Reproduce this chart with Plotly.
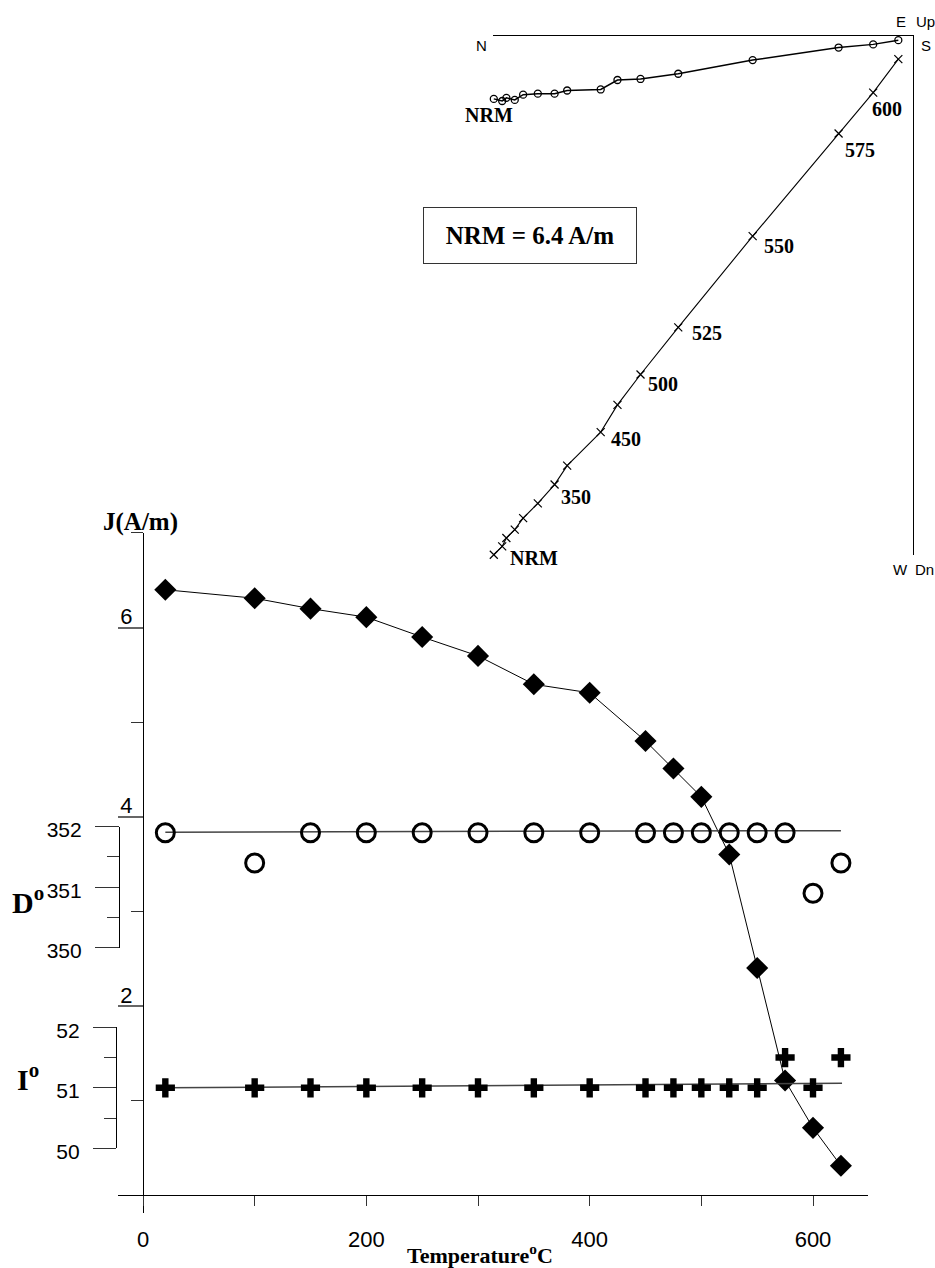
import plotly.graph_objects as go

W, H = 935, 1268

# ---------------- data ----------------
temps = [20, 100, 150, 200, 250, 300, 350, 400, 450, 475, 500, 525, 550, 575, 600, 625]
J_vals = [6.40, 6.31, 6.20, 6.11, 5.90, 5.70, 5.40, 5.31, 4.80, 4.51, 4.21, 3.60, 2.40, 1.21, 0.71, 0.31]
D_vals = [351.9, 351.4, 351.9, 351.9, 351.9, 351.9, 351.9, 351.9, 351.9, 351.9, 351.9, 351.9, 351.9, 351.9, 350.9, 351.4]
I_vals = [51.0, 51.0, 51.0, 51.0, 51.0, 51.0, 51.0, 51.0, 51.0, 51.0, 51.0, 51.0, 51.0, 51.5, 51.0, 51.5]
D_fit_T = [20, 625]
D_fit = [351.91, 351.935]
I_fit_T = [20, 626]
I_fit = [51.0, 51.075]

# Zijderveld components (A/m)
z_N = [4.00, 3.92, 3.88, 3.80, 3.72, 3.58, 3.42, 3.30, 2.98, 2.82, 2.60, 2.24, 1.53, 0.71, 0.38, 0.14]
z_W = [0.60, 0.62, 0.59, 0.61, 0.56, 0.55, 0.55, 0.52, 0.51, 0.42, 0.41, 0.36, 0.23, 0.11, 0.08, 0.04]
z_Dn = [4.95, 4.87, 4.79, 4.71, 4.60, 4.46, 4.28, 4.10, 3.78, 3.52, 3.23, 2.78, 1.91, 0.93, 0.54, 0.22]
z_label_temps = [350, 450, 500, 525, 550, 575, 600]

J_ticks = [2, 4, 6]
J_minor = [1, 3, 5, 7]
D_ticks = [350, 351, 352]
D_minor = [350.5, 351.5]
I_ticks = [50, 51, 52]
I_minor = [50.5, 51.5]
T_ticks = [0, 100, 200, 300, 400, 500, 600]
T_ticktext = ["0", "", "200", "", "400", "", "600"]

NRM_text = "NRM = 6.4 A/m"

# ---------------- helpers ----------------
def fx(p):
    return p / W

def fy(p):
    return 1 - p / H

SERIF = "Liberation Serif"
SANS = "Liberation Sans"
CLEAR = "rgba(0,0,0,0)"

fig = go.Figure()

# J (diamonds)
fig.add_trace(go.Scatter(x=temps, y=J_vals, xaxis="x", yaxis="y", mode="lines+markers",
                         line=dict(color="black", width=1),
                         marker=dict(symbol="diamond", size=17, color="black"),
                         cliponaxis=False))
# D fit + circles
fig.add_trace(go.Scatter(x=D_fit_T, y=D_fit, xaxis="x", yaxis="y2", mode="lines",
                         line=dict(color="#444", width=1.5), cliponaxis=False))
fig.add_trace(go.Scatter(x=temps, y=D_vals, xaxis="x", yaxis="y2", mode="markers",
                         marker=dict(symbol="circle-open", size=18, color="black",
                                     line=dict(width=3, color="black")),
                         cliponaxis=False))
# I fit + crosses
fig.add_trace(go.Scatter(x=I_fit_T, y=I_fit, xaxis="x", yaxis="y3", mode="lines",
                         line=dict(color="#444", width=1.5), cliponaxis=False))
fig.add_trace(go.Scatter(x=temps, y=I_vals, xaxis="x", yaxis="y3", mode="markers",
                         marker=dict(symbol="cross", size=16, color="black", line=dict(width=0)),
                         cliponaxis=False))

# Zijderveld horizontal projection (circles)
fig.add_trace(go.Scatter(x=z_N, y=z_W, xaxis="x4", yaxis="y4", mode="lines+markers",
                         line=dict(color="black", width=1.5),
                         marker=dict(symbol="circle-open", size=7, color="black",
                                     line=dict(width=1.3, color="black")),
                         cliponaxis=False))
# Zijderveld vertical projection (crosses)
fig.add_trace(go.Scatter(x=z_N, y=z_Dn, xaxis="x4", yaxis="y4", mode="lines+markers",
                         line=dict(color="black", width=1.1),
                         marker=dict(symbol="x-thin-open", size=8, color="black",
                                     line=dict(width=1.2, color="black")),
                         cliponaxis=False))

# ---------------- axes ----------------
px_per_T = (813 - 143) / 600.0
T_left = (118 - 143) / px_per_T
T_right = (868 - 143) / px_per_T
px_per_J = (1006 - 627.7) / 4.0
J_bot = (1195 - 1213) / px_per_J
J_top = (1195 - 533) / px_per_J

tickfont = dict(family=SANS, size=22, color="black")
dfont = dict(family=SANS, size=21, color="black")

layout = dict(
    width=W, height=H, margin=dict(l=0, r=0, t=0, b=0, pad=0, autoexpand=False),
    paper_bgcolor="white", plot_bgcolor=CLEAR, showlegend=False,
    xaxis=dict(domain=[fx(118), fx(868)], range=[T_left, T_right], anchor="free",
               position=fy(1195), showline=True, linecolor="black", linewidth=1.2,
               showgrid=False, zeroline=False, ticks="outside", ticklen=10,
               tickcolor="#333", tickwidth=1.2, tickmode="array", tickvals=T_ticks,
               ticktext=T_ticktext, tickfont=tickfont, ticklabelstandoff=14,
               automargin=False),
    yaxis=dict(domain=[fy(1213), fy(533)], range=[J_bot, J_top], anchor="free",
               position=fx(143), showline=True, linecolor="black", linewidth=1.2,
               showgrid=False, zeroline=False, ticks="outside", ticklen=25,
               tickcolor="#666", tickwidth=1.5, tickmode="array", tickvals=J_ticks,
               ticktext=[str(v) for v in J_ticks], tickfont=tickfont,
               ticklabelshift=-11, ticklabelstandoff=-19, automargin=False,
               minor=dict(tickvals=J_minor, ticklen=12, ticks="outside",
                          tickcolor="#333", tickwidth=1.2)),
    yaxis2=dict(domain=[fy(947.7), fy(826.7)], range=[350, 352], anchor="free",
                position=fx(119), showline=True, linecolor="black", linewidth=1.2,
                showgrid=False, zeroline=False, ticks="outside", ticklen=24,
                tickcolor="#333", tickwidth=1.2, tickmode="array", tickvals=D_ticks,
                ticktext=[str(v) for v in D_ticks], tickfont=dfont,
                ticklabelshift=3, ticklabelstandoff=9, automargin=False,
                minor=dict(tickvals=D_minor, ticklen=12, ticks="outside",
                           tickcolor="#333", tickwidth=1.2)),
    yaxis3=dict(domain=[fy(1148.3), fy(1027.3)], range=[50, 52], anchor="free",
                position=fx(116), showline=True, linecolor="black", linewidth=1.2,
                showgrid=False, zeroline=False, ticks="outside", ticklen=23,
                tickcolor="#333", tickwidth=1.2, tickmode="array", tickvals=I_ticks,
                ticktext=[str(v) for v in I_ticks], tickfont=dfont,
                ticklabelshift=3, ticklabelstandoff=9, automargin=False,
                minor=dict(tickvals=I_minor, ticklen=12, ticks="outside",
                           tickcolor="#333", tickwidth=1.2)),
    xaxis4=dict(domain=[fx(493), fx(913)], range=[(913 - 493) / 104.8, 0], anchor="y4",
                side="top", showline=True, linecolor="black", linewidth=1.3,
                showgrid=False, zeroline=False, ticks="", showticklabels=False,
                automargin=False),
    yaxis4=dict(domain=[fy(555), fy(36)], range=[(555 - 36) / 104.8, 0], anchor="x4",
                side="right", showline=True, linecolor="black", linewidth=1.3,
                showgrid=False, zeroline=False, ticks="", showticklabels=False,
                automargin=False),
)
fig.update_layout(**layout)

# ---------------- annotations ----------------
ann = []

def paper_text(text, x, y, font, xanchor="center", yanchor="middle"):
    ann.append(dict(text=text, x=fx(x), y=fy(y), xref="paper", yref="paper",
                    showarrow=False, xanchor=xanchor, yanchor=yanchor, font=font))

bold_serif = lambda s: dict(family=SERIF, size=s, color="black", weight="bold")
sans = lambda s: dict(family=SANS, size=s, color="black")

paper_text("<b>J(A/m)</b>", 140, 522, bold_serif(25))
paper_text("<b>D<sup>o</sup></b>", 28, 900, bold_serif(30))
paper_text("<b>I<sup>o</sup></b>", 28, 1077, bold_serif(30))
paper_text("<b>Temperature<sup>o</sup>C</b>", 480, 1254, bold_serif(22))

paper_text("N", 481.7, 45, sans(15))
paper_text("S", 926, 45, sans(15))
paper_text("E", 901, 21, sans(15))
paper_text("Up", 925, 21, sans(15))
paper_text("W", 900, 569, sans(15))
paper_text("Dn", 924, 569, sans(15))

# NRM box
ann.append(dict(text="<b>" + NRM_text + "</b>", x=fx(530), y=fy(236), xref="paper", yref="paper",
                showarrow=False, xanchor="center", yanchor="middle",
                font=bold_serif(25), bordercolor="#333", borderwidth=1, borderpad=0,
                width=212, height=55, bgcolor="white"))

# Zijderveld labels
offsets = {350: (21.7, 12.4), 450: (25.7, 7.3), 500: (22, 9), 525: (28.4, 6),
           550: (26.5, 9.5), 575: (21.7, 16.7), 600: (14, 16)}
for t in z_label_temps:
    i = temps.index(t)
    dx, dy = offsets[t]
    ann.append(dict(text="<b>%d</b>" % t, x=z_N[i], y=z_Dn[i], xref="x4", yref="y4",
                    showarrow=False, xanchor="center", yanchor="middle",
                    xshift=dx, yshift=-dy, font=bold_serif(20)))
ann.append(dict(text="<b>NRM</b>", x=z_N[0], y=z_Dn[0], xref="x4", yref="y4",
                showarrow=False, xanchor="center", yanchor="middle",
                xshift=39.7, yshift=-3.3, font=bold_serif(20)))
ann.append(dict(text="<b>NRM</b>", x=z_N[0], y=z_W[0], xref="x4", yref="y4",
                showarrow=False, xanchor="center", yanchor="middle",
                xshift=-5, yshift=-16, font=bold_serif(20)))

fig.update_layout(annotations=ann)

fig.write_html("out.html", config={"displayModeBar": False},
               post_script="document.body.style.margin='0px';document.body.style.overflow='hidden';")
